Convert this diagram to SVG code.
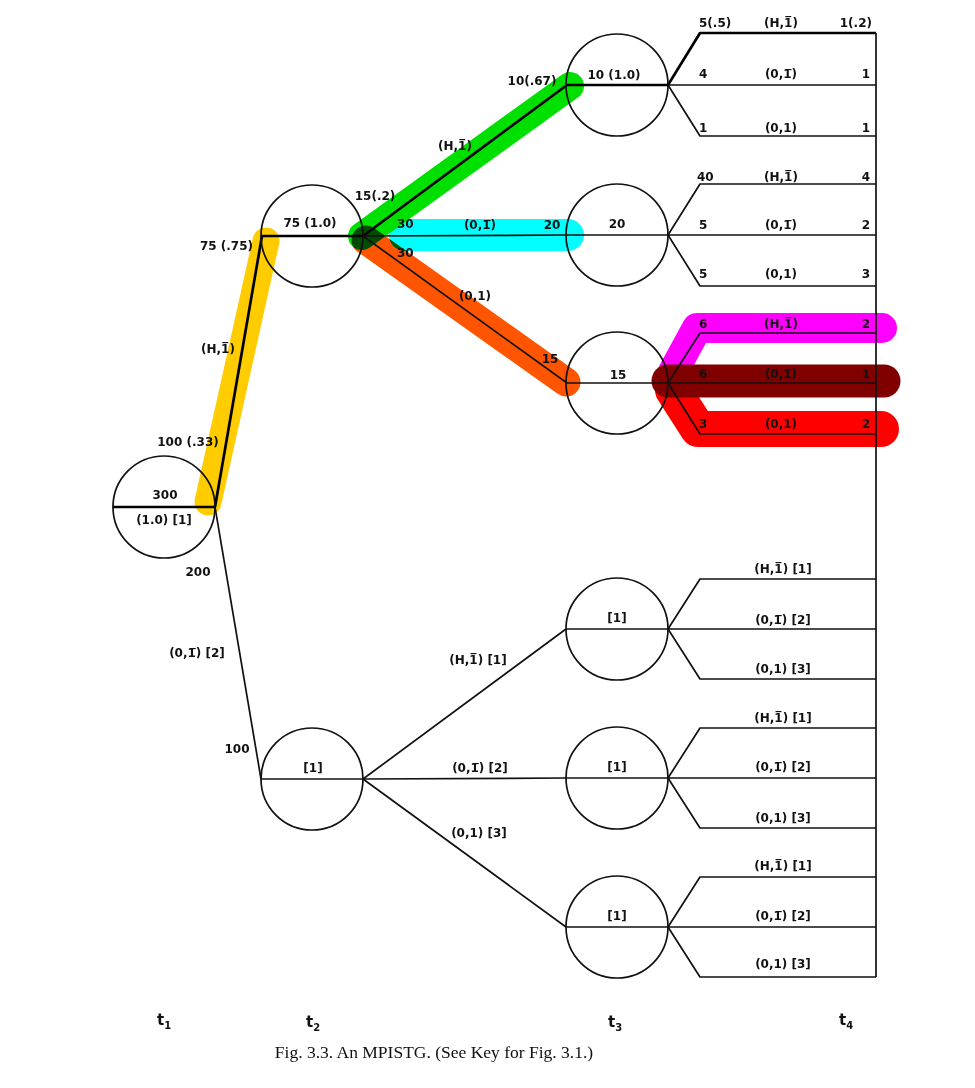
<svg xmlns="http://www.w3.org/2000/svg" width="975" height="1088" viewBox="0 0 975 1088">
<style>
.hl{fill:none;stroke-linecap:round;stroke-linejoin:round;mix-blend-mode:multiply}
.ln{fill:none;stroke:#111;stroke-width:1.7;stroke-linejoin:round}
.th{fill:none;stroke:#000;stroke-width:2.7;stroke-linejoin:round}
.nd{fill:none;stroke:#111;stroke-width:1.7}
text{font-family:"DejaVu Sans","Liberation Sans",sans-serif;font-size:12px;font-weight:bold;fill:#111}
.m{text-anchor:middle}
.e{text-anchor:end}
.ax{font-size:15px}
.cap{font-family:"Liberation Serif",serif;font-size:17.5px;font-weight:normal}
</style>
<rect width="975" height="1088" fill="#fff"/>
<g id="highlights">
<path class="hl" d="M208,502 L266,241" stroke="#ffcc00" stroke-width="27"/>
<path class="hl" d="M366,240 L566,382" stroke="#ff5500" stroke-width="29"/>
<path class="hl" d="M405,235 L568,235" stroke="#00ffff" stroke-width="32"/>
<path class="hl" d="M362,236 L570,86" stroke="#00e000" stroke-width="28"/>
<path class="hl" d="M673,372 L697,328 L882,328" stroke="#ff00ff" stroke-width="30"/>
<path class="hl" d="M668,381 L884,381" stroke="#800000" stroke-width="33"/>
<path class="hl" d="M673,390 L698,429 L881,429" stroke="#ff0000" stroke-width="36"/>
</g>
<g id="connectors">
<path class="th" d="M215,507 L262,236"/>
<path class="ln" d="M215,507 L261,779"/>
<path class="th" d="M363,236 L567,85"/>
<path class="ln" d="M363,236 L567,235"/>
<path class="ln" d="M363,236 L567,383"/>
<path class="ln" d="M363,779 L566,629"/>
<path class="ln" d="M363,779 L566,778"/>
<path class="ln" d="M363,779 L566,927"/>
<path class="th" d="M668,85 L700,33 L876,33"/>
<path class="ln" d="M668,85 L876,85 M668,85 L700,136 L876,136"/>
<path class="ln" d="M668,235 L700,184 L876,184 M668,235 L876,235 M668,235 L700,286 L876,286"/>
<path class="ln" d="M668,383 L700,333 L876,333 M668,383 L876,383 M668,383 L700,434 L876,434"/>
<path class="ln" d="M668,629 L700,579 L876,579 M668,629 L876,629 M668,629 L700,679 L876,679"/>
<path class="ln" d="M668,778 L700,728 L876,728 M668,778 L876,778 M668,778 L700,828 L876,828"/>
<path class="ln" d="M668,927 L700,877 L876,877 M668,927 L876,927 M668,927 L700,977 L876,977"/>
<path class="ln" d="M876,33 L876,977"/>
</g>
<g id="node-t1-root">
<circle class="nd" cx="164" cy="507" r="51"/>
<path class="th" d="M113,507 L215,507"/>
<text class="m" x="165" y="499">300</text>
<text class="m" x="164" y="524">(1.0) [1]</text>
</g>
<g id="node-t2-a">
<circle class="nd" cx="312" cy="236" r="51"/>
<path class="th" d="M262,236 L363,236"/>
<text class="m" x="310" y="227">75 (1.0)</text>
</g>
<g id="node-t2-b">
<circle class="nd" cx="312" cy="779" r="51"/>
<path class="ln" d="M261,779 L363,779"/>
<text class="m" x="313" y="772">[1]</text>
</g>
<g id="node-t3-a">
<circle class="nd" cx="617" cy="85" r="51"/>
<path class="th" d="M567,85 L668,85"/>
<text class="m" x="614" y="79">10 (1.0)</text>
</g>
<g id="node-t3-b">
<circle class="nd" cx="617" cy="235" r="51"/>
<path class="ln" d="M567,235 L668,235"/>
<text class="m" x="617" y="228">20</text>
</g>
<g id="node-t3-c">
<circle class="nd" cx="617" cy="383" r="51"/>
<path class="ln" d="M567,383 L668,383"/>
<text class="m" x="618" y="379">15</text>
</g>
<g id="node-t3-d">
<circle class="nd" cx="617" cy="629" r="51"/>
<path class="ln" d="M566,629 L668,629"/>
<text class="m" x="617" y="622">[1]</text>
</g>
<g id="node-t3-e">
<circle class="nd" cx="617" cy="778" r="51"/>
<path class="ln" d="M566,778 L668,778"/>
<text class="m" x="617" y="771">[1]</text>
</g>
<g id="node-t3-f">
<circle class="nd" cx="617" cy="927" r="51"/>
<path class="ln" d="M566,927 L668,927"/>
<text class="m" x="617" y="920">[1]</text>
</g>
<g id="edge-labels">
<text class="m" x="188" y="446">100 (.33)</text>
<text class="m" x="218" y="353">(H,1&#x305;)</text>
<text class="e" x="253" y="250">75 (.75)</text>
<text class="m" x="198" y="576">200</text>
<text class="m" x="197" y="657">(0,1&#x305;) [2]</text>
<text class="m" x="237" y="753">100</text>
<text class="m" x="375" y="200">15(.2)</text>
<text class="m" x="455" y="150">(H,1&#x305;)</text>
<text class="m" x="532" y="85">10(.67)</text>
<text x="397" y="228">30</text>
<text x="397" y="257">30</text>
<text class="m" x="480" y="229">(0,1&#x305;)</text>
<text class="m" x="552" y="229">20</text>
<text class="m" x="475" y="300">(0,1)</text>
<text class="m" x="550" y="363">15</text>
<text class="m" x="478" y="664">(H,1&#x305;) [1]</text>
<text class="m" x="480" y="772">(0,1&#x305;) [2]</text>
<text class="m" x="479" y="837">(0,1) [3]</text>
</g>
<g id="leaf-labels">
<text x="699" y="27">5(.5)</text><text class="m" x="781" y="27">(H,1&#x305;)</text><text class="e" x="872" y="27">1(.2)</text>
<text x="699" y="78">4</text><text class="m" x="781" y="78">(0,1&#x305;)</text><text class="e" x="870" y="78">1</text>
<text x="699" y="132">1</text><text class="m" x="781" y="132">(0,1)</text><text class="e" x="870" y="132">1</text>
<text x="697" y="181">40</text><text class="m" x="781" y="181">(H,1&#x305;)</text><text class="e" x="870" y="181">4</text>
<text x="699" y="229">5</text><text class="m" x="781" y="229">(0,1&#x305;)</text><text class="e" x="870" y="229">2</text>
<text x="699" y="278">5</text><text class="m" x="781" y="278">(0,1)</text><text class="e" x="870" y="278">3</text>
<text x="699" y="328">6</text><text class="m" x="781" y="328">(H,1&#x305;)</text><text class="e" x="870" y="328">2</text>
<text x="699" y="378">6</text><text class="m" x="781" y="378">(0,1&#x305;)</text><text class="e" x="870" y="378">1</text>
<text x="699" y="428">3</text><text class="m" x="781" y="428">(0,1)</text><text class="e" x="870" y="428">2</text>
<text class="m" x="783" y="573">(H,1&#x305;) [1]</text>
<text class="m" x="783" y="624">(0,1&#x305;) [2]</text>
<text class="m" x="783" y="673">(0,1) [3]</text>
<text class="m" x="783" y="722">(H,1&#x305;) [1]</text>
<text class="m" x="783" y="771">(0,1&#x305;) [2]</text>
<text class="m" x="783" y="822">(0,1) [3]</text>
<text class="m" x="783" y="870">(H,1&#x305;) [1]</text>
<text class="m" x="783" y="920">(0,1&#x305;) [2]</text>
<text class="m" x="783" y="968">(0,1) [3]</text>
</g>
<g id="axis">
<text class="ax" x="157" y="1025">t<tspan font-size="10" dy="4">1</tspan></text>
<text class="ax" x="306" y="1027">t<tspan font-size="10" dy="4">2</tspan></text>
<text class="ax" x="608" y="1027">t<tspan font-size="10" dy="4">3</tspan></text>
<text class="ax" x="839" y="1025">t<tspan font-size="10" dy="4">4</tspan></text>
<text class="cap m" x="434" y="1058">Fig. 3.3. An MPISTG. (See Key for Fig. 3.1.)</text>
</g>
</svg>
